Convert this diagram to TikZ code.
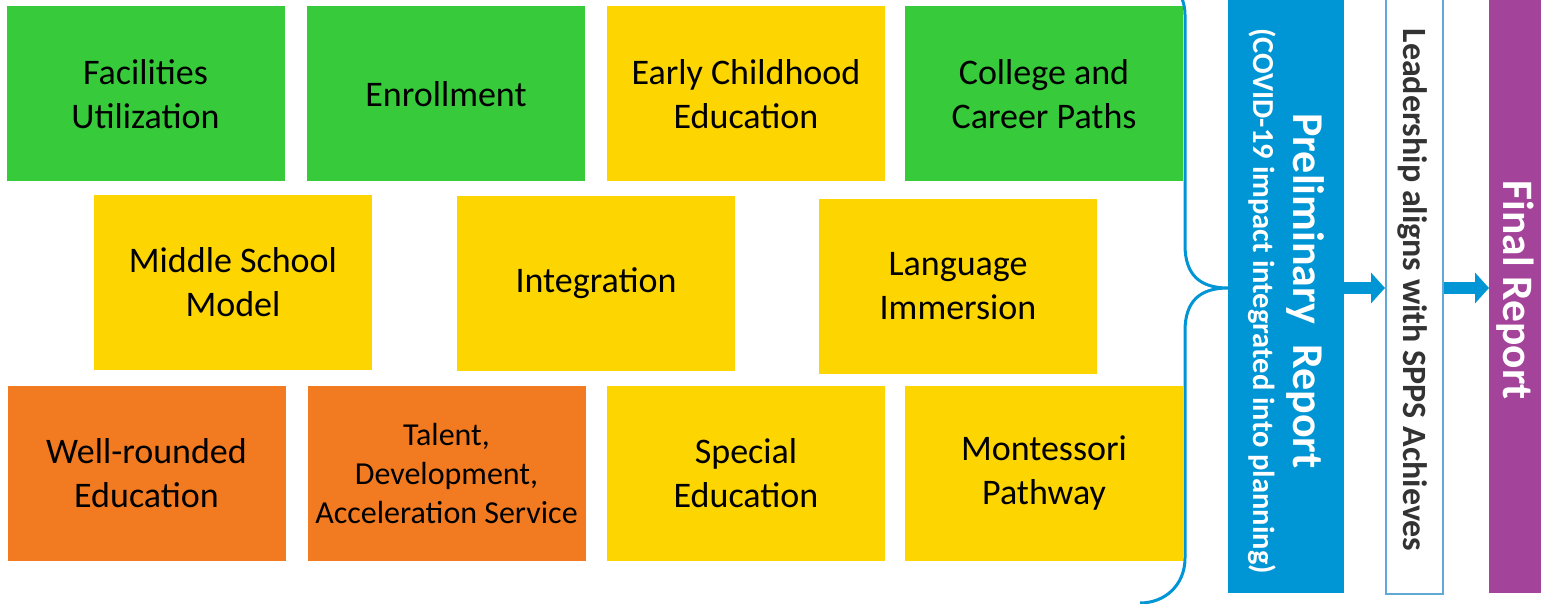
\documentclass[tikz,border=0pt]{standalone}
\usepackage{fontspec}
\setmainfont{Carlito}
\usetikzlibrary{arrows.meta}
\definecolor{cgreen}{HTML}{37CB3B}
\definecolor{cyellow}{HTML}{FDD500}
\definecolor{corange}{HTML}{F27B22}
\definecolor{cblue}{HTML}{0095D4}
\definecolor{cpurple}{HTML}{A3449A}
\definecolor{cframe}{HTML}{5FA8D8}
\definecolor{cdark}{HTML}{333333}
\tikzset{
  topic/.style={rectangle, inner sep=0pt, minimum width=278pt, minimum height=175pt,
    align=center, text=black, font=\fontsize{36}{44}\selectfont},
  gbox/.style={topic, fill=cgreen},
  ybox/.style={topic, fill=cyellow},
  obox/.style={topic, fill=corange},
  bar/.style={rectangle, inner sep=0pt, anchor=north west},
  vtext/.style={rotate=-90, inner sep=0pt, font=\bfseries},
  bigarrow/.style={cblue, line width=12pt, -{Triangle[length=14pt,width=30pt]}},
  bracestyle/.style={cblue, line width=3pt}
}
\begin{document}
\begin{tikzpicture}[x=1pt, y=-1pt]
\useasboundingbox[fill=white] (0,0) rectangle (1541,604);
% row 1
\node[gbox] (fac) at (145.5,94) {Facilities\\Utilization};
\node[gbox] (enr) at (446,94) {Enrollment};
\node[ybox] (ece) at (746,94) {Early Childhood\\Education};
\node[gbox] (col) at (1044,94) {College and\\Career Paths};
% row 2
\node[ybox] (mid) at (233,282.5) {Middle School\\Model};
\node[ybox] (int) at (596,283.5) {Integration};
\node[ybox] (lang) at (958,286.5) {Language\\Immersion};
% row 3
\node[obox] (well) at (146.5,473.5) {Well-rounded\\Education};
\node[obox, font=\fontsize{32}{39}\selectfont] (tal) at (446.5,473.5) {Talent,\\Development,\\Acceleration Service};
\node[ybox] (spec) at (746,473.5) {Special\\Education};
\node[ybox] (mont) at (1044,473.5) {Montessori\\Pathway};
% brace
\draw[bracestyle] (1140,-30) .. controls (1165,-30) and (1185,-10) .. (1185,15)
  -- (1185,245) .. controls (1185,275) and (1200,288) .. (1228,288)
  .. controls (1200,288) and (1185,301) .. (1185,331)
  -- (1185,558) .. controls (1185,585) and (1165,603) .. (1140,603);
% bars
\node[bar, fill=cblue, minimum width=116pt, minimum height=603pt] (prelim) at (1228,-10) {};
\node[bar, draw=cframe, line width=1.5pt, fill=white, minimum width=57pt, minimum height=603pt] (lead) at (1385,-10) {};
\node[bar, fill=cpurple, minimum width=60pt, minimum height=603pt] (final) at (1489,-10) {};
\node[vtext, text=white, font=\bfseries\fontsize{44}{50}\selectfont] (ptitle) at (1305,291) {Preliminary\ \ Report};
\node[vtext, text=white, font=\bfseries\fontsize{30.5}{36}\selectfont] (pcovid) at (1262,301) {(COVID-19 impact integrated into planning)};
\node[vtext, text=cdark, font=\bfseries\fontsize{34}{40}\selectfont] (ltext) at (1413,290) {Leadership aligns with SPPS Achieves};
\node[vtext, text=white, font=\bfseries\fontsize{43.5}{50}\selectfont] (ftext) at (1515,290) {Final Report};
% arrows
\coordinate (arrowrow) at (0,288);
\draw[bigarrow] (prelim.east |- arrowrow) -- (lead.west |- arrowrow);
\draw[bigarrow] (lead.east |- arrowrow) -- (final.west |- arrowrow);
\end{tikzpicture}
\end{document}
